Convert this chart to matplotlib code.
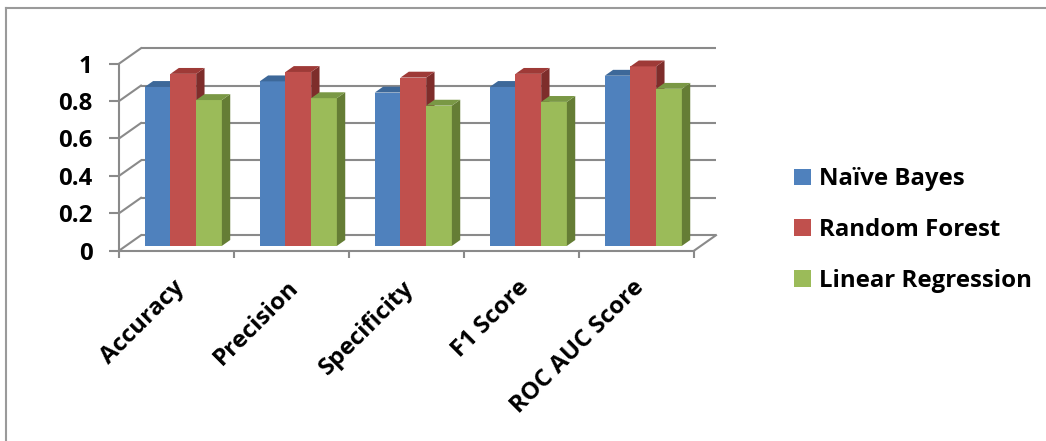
import matplotlib
matplotlib.use("Agg")
import matplotlib.pyplot as plt
from matplotlib.patches import Polygon, Patch
from matplotlib.lines import Line2D

categories = ["Accuracy", "Precision", "Specificity", "F1 Score", "ROC AUC Score"]
series_names = ["Naïve Bayes", "Random Forest", "Linear Regression"]
naive_bayes = [0.85, 0.88, 0.82, 0.85, 0.91]
random_forest = [0.92, 0.93, 0.90, 0.92, 0.96]
linear_regression = [0.78, 0.79, 0.75, 0.77, 0.84]
y_ticks = [0, 0.2, 0.4, 0.6, 0.8, 1]
y_tick_labels = ["0", "0.2", "0.4", "0.6", "0.8", "1"]

series_values = [naive_bayes, random_forest, linear_regression]
front_colors = ["#4F81BD", "#C0504D", "#9BBB59"]
top_colors = ["#3D6899", "#9E3A37", "#7A9845"]
side_colors = ["#345A86", "#7E2D2B", "#657D35"]

FONT = "Open Sans"
FS = 17.3
GRID = "#8A8A8A"

W, H, DPI = 1046, 441, 100
fig = plt.figure(figsize=(W / DPI, H / DPI), dpi=DPI)
fig.patch.set_facecolor("white")

# pixel geometry of the plot box (origin top-left)
x0_px, cat_px = 119.0, 115.0
y0_px, unit_px = 250.7, 187.0
ax = fig.add_axes([0, 0, 1, 1])
ax.set_xlim(-x0_px / cat_px, (W - x0_px) / cat_px)
ax.set_ylim((y0_px - H) / unit_px, y0_px / unit_px)
ax.set_facecolor("none")

# oblique depth of the 3-D box, in data units
DX = 22.0 / cat_px
DY = 15.5 / unit_px
n = len(categories)

# back wall gridlines, side wall and floor edges
for g in y_ticks:
    ax.plot([DX, n + DX], [g + DY, g + DY], color=GRID, lw=1.5, zorder=1,
            solid_capstyle="butt")
    ax.plot([0, DX], [g, g + DY], color=GRID, lw=1.5, zorder=1)
ax.plot([n, n + DX], [0, DY], color=GRID, lw=1.5, zorder=1)

# 3-D columns
d0, dd = 0.31, 0.38
bw = 0.2235
group_off = (1 - 3 * bw) / 2
for s, vals in enumerate(series_values):
    xs = [i + group_off + s * bw + d0 * DX for i in range(n)]
    base = d0 * DY
    ax.bar(xs, vals, width=bw, bottom=base, align="edge",
           color=front_colors[s], linewidth=0, zorder=3 + s)
    for xl, v in zip(xs, vals):
        xr = xl + bw
        top = base + v
        ax.add_patch(Polygon([(xr, base), (xr + dd * DX, base + dd * DY),
                              (xr + dd * DX, top + dd * DY), (xr, top)],
                             closed=True, facecolor=side_colors[s],
                             edgecolor="none", zorder=3 + s))
        ax.add_patch(Polygon([(xl, top), (xl + dd * DX, top + dd * DY),
                              (xr + dd * DX, top + dd * DY), (xr, top)],
                             closed=True, facecolor=top_colors[s],
                             edgecolor="none", zorder=3 + s))

# front axes
for side in ("top", "right"):
    ax.spines[side].set_visible(False)
ax.spines["left"].set_position(("data", 0))
ax.spines["bottom"].set_position(("data", 0))
ax.spines["left"].set_bounds(0, 1)
ax.spines["bottom"].set_bounds(0, n)
for side in ("left", "bottom"):
    ax.spines[side].set_color(GRID)
    ax.spines[side].set_linewidth(1.5)
    ax.spines[side].set_zorder(2)

ax.set_yticks(y_ticks)
ax.set_yticklabels(y_tick_labels, fontfamily=FONT, fontweight="bold",
                   fontsize=FS)
ax.tick_params(axis="y", direction="out", length=7, width=1.5, color=GRID,
               pad=12)
ax.set_xticks(range(n + 1))
ax.set_xticklabels([])
ax.tick_params(axis="x", direction="out", length=5, width=1.5, color=GRID)

for i, name in enumerate(categories):
    ax.text(i + 0.5 - 0.04, -0.135, name, rotation=45, rotation_mode="anchor",
            ha="right", va="top", fontfamily=FONT, fontweight="bold",
            fontsize=FS)

handles = [Patch(facecolor=c, edgecolor="none") for c in front_colors]
fig.legend(handles, series_names, loc="center left",
           bbox_to_anchor=(794 / W, 1 - 230 / H), frameon=False,
           prop={"family": FONT, "weight": "bold", "size": FS},
           handlelength=0.7, handleheight=0.68, handletextpad=0.35,
           labelspacing=1.11, borderpad=0, borderaxespad=0)

# outer chart frame
fig.add_artist(Line2D([6 / W, 6 / W], [0, 1 - 8 / H], color="#9A9A9A",
                      lw=1.5, transform=fig.transFigure))
fig.add_artist(Line2D([6 / W, 1], [1 - 8 / H, 1 - 8 / H], color="#9A9A9A",
                      lw=1.5, transform=fig.transFigure))

fig.savefig("out.png", dpi=DPI)
